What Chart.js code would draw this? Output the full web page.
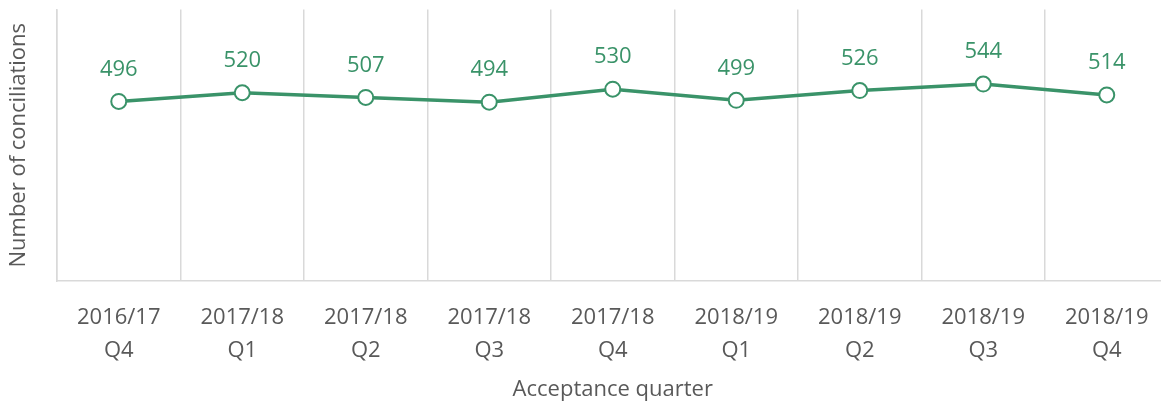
<!DOCTYPE html>
<html>
<head>
<meta charset="utf-8">
<script src="https://cdn.jsdelivr.net/npm/chart.js@4/dist/chart.umd.min.js"></script>
<style>
  html, body { margin: 0; padding: 0; background: #fff; overflow: hidden; }
  #wrap { width: 1161px; height: 406px; overflow: hidden; }
  #chart { display: block; }
</style>
</head>
<body>
<div id="wrap"><canvas id="chart" width="1178" height="406"></canvas></div>
<script>
/* ── Data ── */
const years    = ['2016/17', '2017/18', '2017/18', '2017/18', '2017/18', '2018/19', '2018/19', '2018/19', '2018/19'];
const quarters = ['Q4', 'Q1', 'Q2', 'Q3', 'Q4', 'Q1', 'Q2', 'Q3', 'Q4'];
const conciliations = [496, 520, 507, 494, 530, 499, 526, 544, 514];

const GREEN = '#3a9369';
const GREY  = '#595959';
const FONT  = '"Open Sans", "Noto Sans", sans-serif';

const labels = years.map((y, i) => [y, quarters[i]]);

/* ── Value labels above the points ── */
const valueLabels = {
    id: 'valueLabels',
    afterDatasetsDraw(chart) {
        const { ctx } = chart;
        const meta = chart.getDatasetMeta(0);
        ctx.save();
        ctx.fillStyle = GREEN;
        ctx.font = '22px ' + FONT;
        ctx.textAlign = 'center';
        ctx.textBaseline = 'middle';
        meta.data.forEach((pt, i) => {
            ctx.fillText(conciliations[i], pt.x, pt.y - 32);
        });
        ctx.restore();
    }
};

new Chart(document.getElementById('chart'), {
    type: 'line',
    data: {
        labels: labels,
        datasets: [{
            data: conciliations,
            borderColor: GREEN,
            borderWidth: 3.5,
            pointRadius: 7.5,
            pointHoverRadius: 7.5,
            pointBackgroundColor: '#fff',
            pointBorderColor: GREEN,
            pointBorderWidth: 2,
            tension: 0
        }]
    },
    options: {
        responsive: false,
        animation: false,
        layout: { padding: { top: 8, right: 3, bottom: 0, left: 0 } },
        plugins: { legend: { display: false }, tooltip: { enabled: false } },
        scales: {
            x: {
                offset: true,
                grid: { offset: true, color: '#d9d9d9', lineWidth: 1.5, drawTicks: false },
                border: { color: '#d9d9d9', width: 1.5 },
                ticks: {
                    color: GREY,
                    padding: 20,
                    maxRotation: 0,
                    autoSkip: false,
                    font: { family: FONT, size: 22, lineHeight: 1.5 }
                },
                title: {
                    display: true,
                    text: 'Acceptance quarter',
                    color: GREY,
                    font: { family: FONT, size: 22 },
                    padding: { top: 0, bottom: 3 }
                },
                afterFit: s => { s.height = 125; }
            },
            y: {
                min: 0,
                max: 750,
                grid: { display: false },
                border: { color: '#d9d9d9', width: 1.5 },
                ticks: { display: false },
                title: {
                    display: true,
                    text: 'Number of conciliations',
                    color: GREY,
                    font: { family: FONT, size: 22 },
                    padding: { top: 6, bottom: 0 }
                },
                afterFit: s => { s.width = 57; }
            }
        }
    },
    plugins: [valueLabels]
});
</script>
</body>
</html>
